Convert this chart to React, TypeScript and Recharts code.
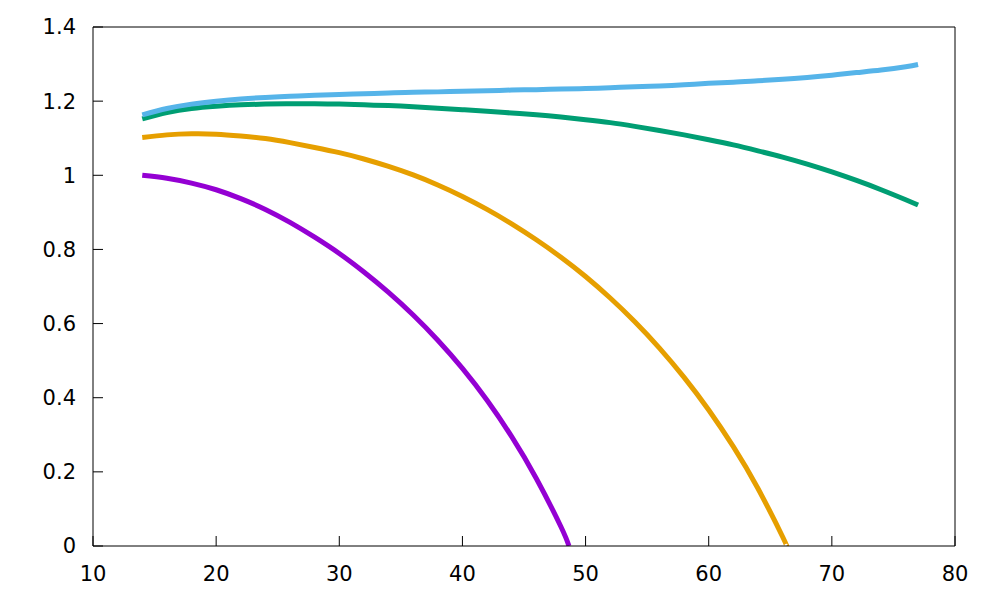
import { LineChart, Line, XAxis, YAxis } from "recharts";

const xTicks = [10, 20, 30, 40, 50, 60, 70, 80];
const yTicks = [0, 0.2, 0.4, 0.6, 0.8, 1, 1.2, 1.4];

const purpleX = [14, 16, 18, 20, 22, 24, 26, 28, 30, 32, 34, 36, 38, 40, 42, 44, 46, 48, 48.65];
const purpleY = [1.0, 0.992, 0.979, 0.961, 0.937, 0.908, 0.873, 0.833, 0.789, 0.739, 0.684, 0.623, 0.555, 0.479, 0.393, 0.295, 0.182, 0.052, 0];

const orangeX = [14, 16, 18, 20, 22, 24, 26, 28, 30, 32, 34, 36, 38, 40, 42, 44, 46, 48, 50, 52, 54, 56, 58, 60, 62, 64, 66, 66.3];
const orangeY = [1.102, 1.109, 1.112, 1.111, 1.106, 1.099, 1.088, 1.075, 1.061, 1.044, 1.024, 1.001, 0.974, 0.943, 0.908, 0.869, 0.826, 0.779, 0.727, 0.669, 0.605, 0.534, 0.455, 0.367, 0.268, 0.155, 0.025, 0];

const greenX = [14, 16, 18, 20, 22, 24, 26, 28, 30, 32, 34, 36, 38, 40, 42, 44, 46, 48, 50, 52, 54, 56, 58, 60, 62, 64, 66, 68, 70, 72, 74, 76, 77];
const greenY = [1.152, 1.169, 1.18, 1.186, 1.19, 1.192, 1.193, 1.193, 1.192, 1.19, 1.188, 1.185, 1.181, 1.177, 1.173, 1.168, 1.163, 1.157, 1.15, 1.142, 1.132, 1.121, 1.109, 1.096, 1.082, 1.066, 1.049, 1.03, 1.009, 0.986, 0.961, 0.934, 0.92];

const blueX = greenX;
const blueY = [1.163, 1.18, 1.192, 1.2, 1.206, 1.21, 1.213, 1.216, 1.218, 1.22, 1.222, 1.224, 1.225, 1.227, 1.228, 1.23, 1.231, 1.233, 1.234, 1.236, 1.239, 1.241, 1.244, 1.248, 1.251, 1.255, 1.259, 1.264, 1.27, 1.277, 1.284, 1.293, 1.299];

const zip = (xs: number[], ys: number[]) => xs.map((x, i) => ({ x, y: ys[i] }));

const series = [
    { name: "purple", color: "#9400d3", data: zip(purpleX, purpleY) },
    { name: "orange", color: "#e69f00", data: zip(orangeX, orangeY) },
    { name: "green", color: "#009e73", data: zip(greenX, greenY) },
    { name: "blue", color: "#56b4e9", data: zip(blueX, blueY) },
];

const tickFont = { fontFamily: "DejaVu Sans", fontSize: 21, fill: "#000" };

export default function App() {
    return (
        <div style={{ position: "absolute", left: 0, top: 0, width: 1000, height: 600, background: "#fff" }}>
            <LineChart width={1000} height={600} margin={{ top: 26, right: 44, bottom: 0, left: 0 }}>
                <XAxis
                    xAxisId="bottom"
                    dataKey="x"
                    type="number"
                    domain={[10, 80]}
                    ticks={xTicks}
                    height={54}
                    tickSize={-10}
                    tickMargin={30}
                    tick={tickFont}
                    stroke="#000"
                    allowDataOverflow
                />
                <XAxis
                    xAxisId="top"
                    orientation="top"
                    type="number"
                    domain={[10, 80]}
                    ticks={xTicks}
                    height={1}
                    tickSize={-10}
                    tick={false}
                    stroke="#000"
                    allowDataOverflow
                />
                <YAxis
                    yAxisId="left"
                    type="number"
                    domain={[0, 1.4]}
                    ticks={yTicks}
                    width={93}
                    tickSize={-10}
                    tickMargin={27}
                    tick={tickFont}
                    stroke="#000"
                    allowDataOverflow
                />
                <YAxis
                    yAxisId="right"
                    orientation="right"
                    type="number"
                    domain={[0, 1.4]}
                    ticks={yTicks}
                    width={1}
                    tickSize={-10}
                    tick={false}
                    stroke="#000"
                    allowDataOverflow
                />
                {series.map((s) => (
                    <Line
                        key={s.name}
                        xAxisId="bottom"
                        yAxisId="left"
                        data={s.data}
                        dataKey="y"
                        type="natural"
                        stroke={s.color}
                        strokeWidth={5}
                        dot={false}
                        activeDot={false}
                        isAnimationActive={false}
                    />
                ))}
            </LineChart>
        </div>
    );
}
